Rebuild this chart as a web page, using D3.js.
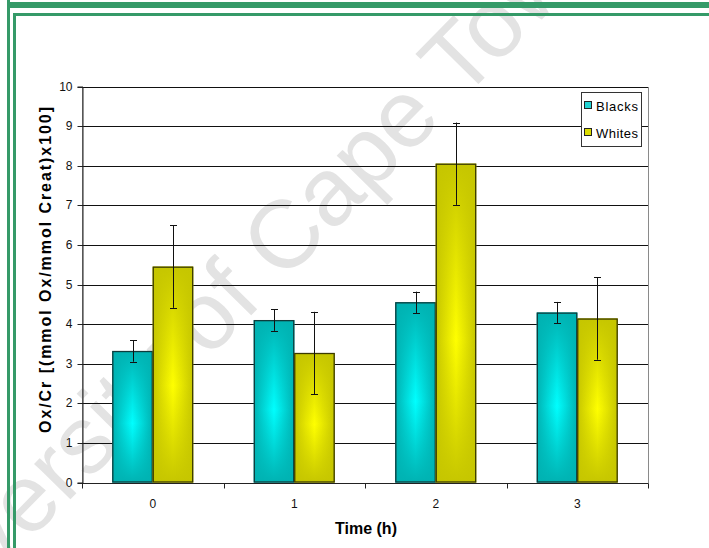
<!DOCTYPE html>
<html>
<head>
<meta charset="utf-8">
<script src="https://cdn.jsdelivr.net/npm/d3@7"></script>
<style>
  html, body { margin: 0; padding: 0; background: #fff; }
  svg { display: block; font-family: "Liberation Sans", Arial, sans-serif; }
</style>
</head>
<body>
<svg id="chart" width="709" height="548"></svg>
<script>
// Oxalate / creatinine ratio over time, by group
const categories = ["0", "1", "2", "3"];
const seriesNames = ["Blacks", "Whites"];
const blacks = [3.32, 4.10, 4.55, 4.29];
const whites = [5.45, 3.27, 8.05, 4.14];
const blacksErr = [0.27, 0.27, 0.27, 0.27];
const whitesErr = [1.04, 1.04, 1.04, 1.04];
const yTickValues = [0, 1, 2, 3, 4, 5, 6, 7, 8, 9, 10];
const yTitle = "Ox/Cr [(mmol Ox/mmol Creat)x100]";
const xTitle = "Time (h)";
const watermarkText = "University of Cape Town";

const svg = d3.select("#chart");
const W = 709, H = 548;

const seriesColors = {
  Blacks: { edge: "#00b2b2", center: "#00ffff", stroke: "#0e3c3c", swatch: "#22d2d2" },
  Whites: { edge: "#c6c600", center: "#ffff00", stroke: "#3a3a00", swatch: "#dcdc00" }
};

// gradients: bright vertical centre line fading to the sides, plus top/bottom shading
const defs = svg.append("defs");
seriesNames.forEach(name => {
  const c = seriesColors[name];
  const h = defs.append("linearGradient").attr("id", "h-" + name)
    .attr("x1", 0).attr("x2", 1).attr("y1", 0).attr("y2", 0);
  h.append("stop").attr("offset", 0).attr("stop-color", c.edge);
  h.append("stop").attr("offset", 0.5).attr("stop-color", c.center);
  h.append("stop").attr("offset", 1).attr("stop-color", c.edge);
  const v = defs.append("linearGradient").attr("id", "v-" + name)
    .attr("x1", 0).attr("x2", 0).attr("y1", 0).attr("y2", 1);
  v.append("stop").attr("offset", 0).attr("stop-color", c.edge).attr("stop-opacity", 1);
  v.append("stop").attr("offset", 0.55).attr("stop-color", c.edge).attr("stop-opacity", 0);
  v.append("stop").attr("offset", 1).attr("stop-color", c.edge).attr("stop-opacity", 1);
});

// page watermark (runs off the page corners)
const wmSize = 96;
svg.append("g")
  .attr("transform", "translate(238,293) rotate(-45.5)")
  .append("text")
  .attr("x", 0).attr("y", wmSize * 0.26)
  .attr("text-anchor", "middle")
  .attr("font-size", wmSize)
  .attr("fill", "#e3e3e3")
  .text(watermarkText);

// page frame lines
const green = "#359a68";
svg.append("rect").attr("x", 7).attr("y", 2).attr("width", W - 7).attr("height", 6).attr("fill", green);
svg.append("rect").attr("x", 7).attr("y", 0).attr("width", 3).attr("height", H).attr("fill", green);
svg.append("rect").attr("x", 13).attr("y", 13).attr("width", W - 13).attr("height", 3).attr("fill", green);
svg.append("rect").attr("x", 13).attr("y", 13).attr("width", 3).attr("height", H - 13).attr("fill", green);

// plot area
const plot = { left: 82, right: 648, top: 86.5, bottom: 482.5 };

const x = d3.scaleBand().domain(categories).range([plot.left, plot.right]).padding(0);
const bw = x.bandwidth();
const barW = bw / 3.5;            // gap width 150%
const xs = d3.scaleBand().domain(seriesNames)
  .range([(bw - 2 * barW) / 2, (bw + 2 * barW) / 2]).padding(0);
const y = d3.scaleLinear().domain([0, 10]).range([plot.bottom, plot.top]);

// plot border
svg.append("rect")
  .attr("x", plot.left + 0.5).attr("y", Math.round(plot.top) + 0.5)
  .attr("width", plot.right - plot.left).attr("height", Math.round(plot.bottom) - Math.round(plot.top))
  .attr("fill", "none").attr("stroke", "#8a8a8a");

// gridlines
svg.append("g").selectAll("line")
  .data(yTickValues.filter(d => d > 0))
  .join("line")
  .attr("x1", plot.left).attr("x2", plot.right)
  .attr("y1", d => Math.round(y(d)) + 0.5).attr("y2", d => Math.round(y(d)) + 0.5)
  .attr("stroke", "#111").attr("stroke-width", 1);

// bars
const data = categories.flatMap((cat, i) => [
  { cat, series: "Blacks", value: blacks[i], err: blacksErr[i] },
  { cat, series: "Whites", value: whites[i], err: whitesErr[i] }
]);

const bars = svg.append("g");
data.forEach(d => {
  const bx = x(d.cat) + xs(d.series);
  const by = y(d.value);
  const bh = y(0) - y(d.value);
  const c = seriesColors[d.series];
  bars.append("rect").attr("x", bx).attr("y", by).attr("width", xs.bandwidth()).attr("height", bh)
    .attr("fill", `url(#h-${d.series})`);
  bars.append("rect").attr("x", bx).attr("y", by).attr("width", xs.bandwidth()).attr("height", bh)
    .attr("fill", `url(#v-${d.series})`);
  bars.append("rect").attr("x", bx + 0.5).attr("y", by + 0.5)
    .attr("width", xs.bandwidth() - 1).attr("height", bh - 1)
    .attr("fill", "none").attr("stroke", c.stroke).attr("stroke-width", 1.3);
});

// error bars
const eb = svg.append("g").attr("stroke", "#111").attr("stroke-width", 1);
data.forEach(d => {
  const cx = Math.round(x(d.cat) + xs(d.series) + xs.bandwidth() / 2) + 0.5;
  const y1 = y(d.value + d.err), y2 = y(d.value - d.err);
  eb.append("line").attr("x1", cx).attr("x2", cx).attr("y1", y1).attr("y2", y2);
  [y1, y2].forEach(yy => eb.append("line").attr("x1", cx - 3.5).attr("x2", cx + 3.5)
    .attr("y1", Math.round(yy) + 0.5).attr("y2", Math.round(yy) + 0.5));
});

// y axis
const yAxis = d3.axisLeft(y).tickValues(yTickValues).tickSize(5).tickPadding(5).tickFormat(d3.format("d"));
const gy = svg.append("g").attr("transform", `translate(${plot.left + 0.5},0)`).call(yAxis);
gy.select(".domain").attr("stroke", "#222");
gy.selectAll(".tick line").attr("stroke", "#222");
gy.selectAll(".tick").attr("transform", d => `translate(0,${Math.round(y(d)) + 0.5})`);
gy.selectAll("text").attr("font-size", 12).attr("fill", "#111")
  .attr("font-family", "Liberation Sans, Arial, sans-serif");

// x axis: ticks at category boundaries
const gx = svg.append("g").attr("transform", `translate(0,${Math.round(plot.bottom) + 0.5})`);
gx.append("line").attr("x1", plot.left).attr("x2", plot.right).attr("stroke", "#222");
const boundaries = categories.map(c => x(c)).concat([plot.right]);
gx.selectAll("line.tk").data(boundaries).join("line").attr("class", "tk")
  .attr("x1", d => Math.round(d) + 0.5).attr("x2", d => Math.round(d) + 0.5)
  .attr("y1", 0).attr("y2", 5).attr("stroke", "#222");
gx.selectAll("text").data(categories).join("text")
  .attr("x", d => x(d) + bw / 2).attr("y", 24)
  .attr("text-anchor", "middle").attr("font-size", 12).attr("fill", "#111")
  .text(d => d);

// axis titles
svg.append("text")
  .attr("transform", "translate(51,270) rotate(-90)")
  .attr("text-anchor", "middle").attr("font-size", 16).attr("font-weight", "bold")
  .attr("fill", "#000")
  .attr("textLength", 326).attr("lengthAdjust", "spacing")
  .text(yTitle);
svg.append("text")
  .attr("x", 366).attr("y", 534)
  .attr("text-anchor", "middle").attr("font-size", 16).attr("font-weight", "bold")
  .attr("fill", "#000")
  .text(xTitle);

// legend
const lg = svg.append("g").attr("transform", "translate(581,92)");
lg.append("rect").attr("x", 0.5).attr("y", 0.5).attr("width", 60).attr("height", 54)
  .attr("fill", "#fff").attr("stroke", "#333");
seriesNames.forEach((name, i) => {
  const row = lg.append("g").attr("transform", `translate(0,${14 + i * 27})`);
  row.append("rect").attr("x", 3.5).attr("y", -4.5).attr("width", 7).attr("height", 7)
    .attr("fill", seriesColors[name].swatch).attr("stroke", "#222");
  row.append("text").attr("x", 15).attr("y", 5)
    .attr("font-size", 13).attr("fill", "#000")
    .attr("textLength", 42).attr("lengthAdjust", "spacing")
    .text(name);
});
</script>
</body>
</html>
